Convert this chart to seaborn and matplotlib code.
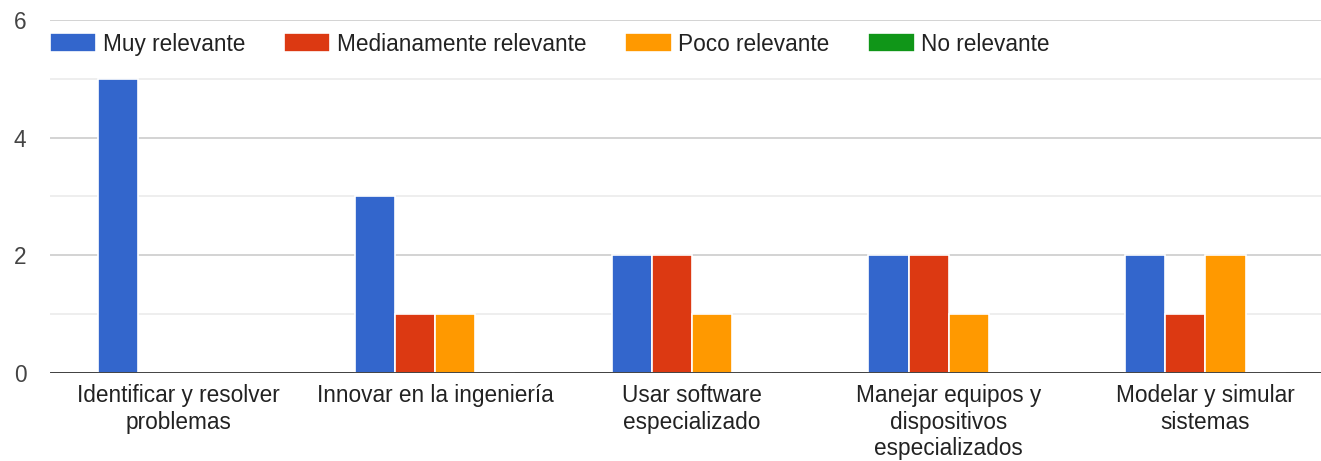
import matplotlib
matplotlib.use("Agg")
import matplotlib.pyplot as plt
import seaborn as sns
import pandas as pd
from matplotlib.ticker import MultipleLocator

categories = ["Identificar y resolver\nproblemas", "Innovar en la ingeniería",
              "Usar software\nespecializado", "Manejar equipos y\ndispositivos\nespecializados",
              "Modelar y simular\nsistemas"]
series = ["Muy relevante", "Medianamente relevante", "Poco relevante", "No relevante"]
muy = [5, 3, 2, 2, 2]
mediana = [0, 1, 2, 2, 1]
poco = [0, 1, 1, 1, 2]
no_rel = [0, 0, 0, 0, 0]
colors = ["#3366CC", "#DC3912", "#FF9900", "#109618"]

rows = []
for s, vals in zip(series, [muy, mediana, poco, no_rel]):
    for c, v in zip(categories, vals):
        rows.append({"cat": c, "serie": s, "val": v})
df = pd.DataFrame(rows)

sns.set_theme(style="white")
plt.rcParams["font.family"] = ["Liberation Sans", "DejaVu Sans"]

FS = 16.3
fig = plt.figure(figsize=(13.21, 4.61), dpi=100)
ax = fig.add_axes([50/1321, 1-373/461, 1-50/1321, 353/461])

sns.barplot(data=df, x="cat", y="val", hue="serie", hue_order=series,
            palette=colors, saturation=1, width=0.625, edgecolor="white", linewidth=1.2,
            ax=ax, legend=True, zorder=3)

ax.set_ylim(0, 6)
ax.set_xlim(-0.5, 4.45)
ax.yaxis.set_major_locator(MultipleLocator(2))
ax.yaxis.set_minor_locator(MultipleLocator(1))
ax.grid(axis="y", which="major", color="#cccccc", linewidth=1.2, zorder=0)
ax.grid(axis="y", which="minor", color="#ebebeb", linewidth=1.2, zorder=0)
ax.set_axisbelow(True)
ax.axhline(0, color="#333333", linewidth=2, zorder=5)
for sp in ax.spines.values():
    sp.set_visible(False)
ax.set_xlabel("")
ax.set_ylabel("")
ax.tick_params(axis="y", which="both", length=0, pad=17, labelsize=FS, labelcolor="#444444")
ax.tick_params(axis="x", length=0, pad=8, labelsize=FS, labelcolor="#222222")
ax.set_xticks(range(len(categories)))
ax.set_xticklabels(categories, linespacing=1.2)

ax.legend(loc="center left", bbox_to_anchor=(0, 0.932), ncol=4, frameon=False,
          borderaxespad=0, borderpad=0, fontsize=FS, handlelength=2.05,
          handleheight=0.88, handletextpad=0.3, columnspacing=1.7,
          labelcolor="#222222")

fig.savefig("out.png", dpi=100)
